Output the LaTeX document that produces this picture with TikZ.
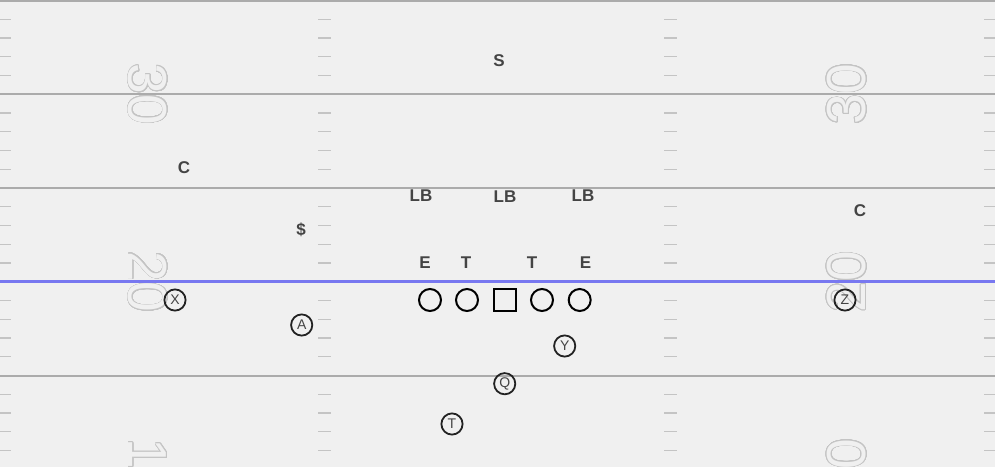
\documentclass[tikz,border=0pt]{standalone}
\usepackage{fontspec}
\setmainfont{Liberation Sans}
\usepackage{xcolor}
\usepackage{contour}
\definecolor{turf}{HTML}{F0F0F0}
\definecolor{yardgray}{HTML}{ABABAB}
\definecolor{hashgray}{HTML}{C4C4C4}
\definecolor{numgray}{HTML}{C4C4C4}
\definecolor{scrimmage}{HTML}{7878F0}
\definecolor{labelgray}{HTML}{444444}
\definecolor{markgray}{HTML}{222222}

\contournumber{32}
\contourlength{0.7pt}
\newcommand{\yardnum}[1]{\contour{numgray}{\textcolor{turf}{#1}}}

\begin{document}
\begin{tikzpicture}[x=1pt, y=-1pt,
    yardline/.style={draw=yardgray, line width=2pt},
    hashmark/.style={draw=hashgray, line width=1.2pt},
    fieldnum/.style={inner sep=0pt, font=\fontsize{55}{55}\selectfont},
    defender/.style={inner sep=0pt, text=labelgray, font=\fontsize{17}{17}\selectfont\bfseries},
    lineman/.style={circle, draw=black, line width=2pt, minimum size=22pt, inner sep=0pt},
    snapper/.style={rectangle, draw=black, line width=2pt, minimum size=22pt, inner sep=0pt},
    skill/.style={circle, draw=markgray, line width=1.8pt, minimum size=21.2pt, inner sep=0pt, text=labelgray, font=\fontsize{14}{14}\selectfont}]

    % draw field background
    \useasboundingbox (0, 0) rectangle (995, 467);
    \fill[turf] (0, 0) rectangle (995, 467);
    \clip (0, 0) rectangle (995, 467);

    % draw yard lines
    \foreach \yl in {0.5, 94.25, 188, 375.5}
        \draw[yardline] (0, \yl) -- (995, \yl);

    % draw hash marks
    \foreach \hx/\hw in {0/11, 318/13, 664/13, 984/11}
        \foreach \yd in {0, ..., 4}
            \foreach \k in {1, ..., 4}
                \draw[hashmark] (\hx, {0.5 + 93.75*\yd + 18.75*\k}) -- ++(\hw, 0);

    % draw line of scrimmage
    \draw[scrimmage, line width=3pt] (0, 281.75) -- (995, 281.75);

    % draw field numbers
    \node[fieldnum, rotate=-90] (numthirtyl) at (147.5, 94.25)  {\yardnum{30}};
    \node[fieldnum, rotate=-90] (numtwentyl) at (147.5, 281.75) {\yardnum{20}};
    \node[fieldnum, rotate=-90] (numtenl)    at (147.5, 469.25) {\yardnum{10}};
    \node[fieldnum, rotate=90]  (numthirtyr) at (847, 94.25)    {\yardnum{30}};
    \node[fieldnum, rotate=90]  (numtwentyr) at (847, 281.75)   {\yardnum{20}};
    \node[fieldnum, rotate=90]  (numtenr)    at (847, 469.25)   {\yardnum{10}};

    % draw defense
    \node[defender] (safety)  at (499, 61)    {S};
    \node[defender] (cornerl) at (184, 168)   {C};
    \node[defender] (cornerr) at (860, 211)   {C};
    \node[defender] (money)   at (301, 230)   {\$};
    \node[defender] (backerl) at (421, 195.5) {LB};
    \node[defender] (backerm) at (505, 196.5) {LB};
    \node[defender] (backerr) at (583, 195.5) {LB};
    \node[defender] (endl)    at (425, 262.5) {E};
    \node[defender] (tacklel) at (466, 262.5) {T};
    \node[defender] (tackler) at (532, 262.5) {T};
    \node[defender] (endr)    at (585.5, 262.5) {E};

    % draw offensive line
    \node[lineman] (olinel)  at (430, 300)   {};
    \node[lineman] (guardl)  at (467, 300)   {};
    \node[snapper] (center)  at (505, 300)   {};
    \node[lineman] (guardr)  at (542, 300)   {};
    \node[lineman] (oliner)  at (579.7, 300) {};

    % draw skill players
    \node[skill] (recx)  at (175, 300)     {X};
    \node[skill] (recz)  at (845, 300)     {Z};
    \node[skill] (reca)  at (301.7, 325)   {A};
    \node[skill] (recy)  at (564.7, 346)   {Y};
    \node[skill] (qback) at (504.7, 383.7) {Q};
    \node[skill] (tback) at (452, 424)     {T};

\end{tikzpicture}
\end{document}
